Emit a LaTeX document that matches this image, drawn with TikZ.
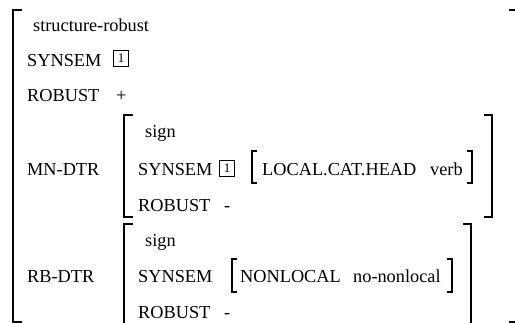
\documentclass[tikz,border=0pt]{standalone}
\usepackage{fontspec}
\setmainfont{Liberation Serif}
\begin{document}
\begin{tikzpicture}[x=1pt,y=-1pt,
  lbl/.style={anchor=base west,inner sep=0pt,font=\fontsize{18.3}{20}\selectfont},
  tagbox/.style={draw,line width=0.8pt,inner sep=0pt,minimum width=15pt,minimum height=16pt,font=\fontsize{13}{13}\selectfont},
  bigbr/.style={line width=1.9pt},
  smallbr/.style={line width=1.1pt}]
\useasboundingbox (0,0) rectangle (515,323);
% outer brackets
\draw[bigbr] (22,10) -- (13,10) -- (13,322) -- (22,322);
\draw[bigbr] (509,10) -- (518,10) -- (518,322) -- (509,322);
% MN-DTR brackets
\draw[bigbr] (133,115) -- (124,115) -- (124,217) -- (133,217);
\draw[bigbr] (484,115) -- (492,115) -- (492,217) -- (484,217);
% RB-DTR brackets
\draw[bigbr] (133,224) -- (124,224) -- (124,330) -- (133,330);
\draw[bigbr] (463,224) -- (471,224) -- (471,330) -- (463,330);
% inner brackets
\draw[smallbr] (257,151) -- (252,151) -- (252,183) -- (257,183);
\draw[smallbr] (467,151) -- (472,151) -- (472,183) -- (467,183);
\draw[smallbr] (237,259) -- (232,259) -- (232,292) -- (237,292);
\draw[smallbr] (447,259) -- (452,259) -- (452,292) -- (447,292);
% outer texts
\node[lbl] (type) at (33,32) {structure-robust};
\node[lbl] (syn) at (27,67) {SYNSEM};
\node[tagbox] (tagA) at (121,58) {1};
\node[lbl] (rob) at (27,102) {ROBUST};
\node[lbl] (robv) at (116,102) {+};
\node[lbl] (mn) at (27,176) {MN-DTR};
\node[lbl] (rb) at (27,283) {RB-DTR};
% MN-DTR
\node[lbl] (mntype) at (145,138) {sign};
\node[lbl] (mnsyn) at (138,176) {SYNSEM};
\node[tagbox] (tagB) at (227,168) {1};
\node[lbl] (mnfeat) at (262,176) {LOCAL.CAT.HEAD};
\node[lbl] (mnval) at (430,176) {verb};
\node[lbl] (mnrob) at (138,212) {ROBUST};
\node[lbl] (mnrobv) at (224,212) {-};
% RB-DTR
\node[lbl] (rbtype) at (145,247) {sign};
\node[lbl] (rbsyn) at (138,283) {SYNSEM};
\node[lbl] (rbfeat) at (240,283) {NONLOCAL};
\node[lbl] (rbval) at (353,283) {no-nonlocal};
\node[lbl] (rbrob) at (138,319) {ROBUST};
\node[lbl] (rbrobv) at (224,319) {-};
\end{tikzpicture}
\end{document}
